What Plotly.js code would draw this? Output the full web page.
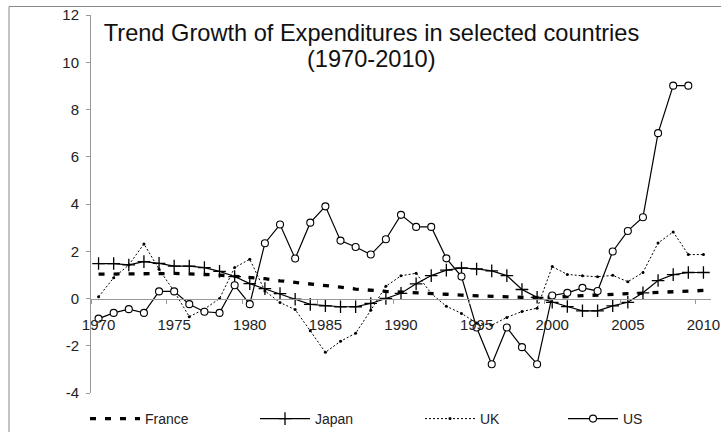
<!DOCTYPE html>
<html>
<head>
<meta charset="utf-8">
<script src="https://cdn.plot.ly/plotly-3.0.1.min.js"></script>
<style>html,body{margin:0;padding:0;background:#fff;}#chart{width:721px;height:432px;}</style>
</head>
<body>
<div id="chart"></div>
<script>
var years = [1970,1971,1972,1973,1974,1975,1976,1977,1978,1979,
             1980,1981,1982,1983,1984,1985,1986,1987,1988,1989,
             1990,1991,1992,1993,1994,1995,1996,1997,1998,1999,
             2000,2001,2002,2003,2004,2005,2006,2007,2008,2009,2010];

var france = [1.03,1.04,1.06,1.07,1.07,1.06,1.04,1.02,0.99,0.94,
              0.89,0.84,0.75,0.69,0.62,0.56,0.48,0.40,0.34,0.30,
              0.27,0.25,0.22,0.18,0.14,0.11,0.08,0.06,0.05,0.04,
              0.05,0.08,0.12,0.15,0.18,0.21,0.24,0.27,0.31,0.34,0.34];

var japan = [1.48,1.48,1.42,1.56,1.49,1.37,1.37,1.31,1.15,0.93,
             0.63,0.42,0.21,-0.03,-0.25,-0.31,-0.35,-0.35,-0.21,0.00,
             0.22,0.62,0.97,1.20,1.29,1.25,1.17,0.97,0.38,0.05,
             -0.16,-0.34,-0.52,-0.52,-0.31,-0.16,0.24,0.76,1.01,1.10,1.10];

var uk = [0.07,0.88,1.42,2.31,1.24,0.30,-0.77,-0.45,0.00,1.31,
          1.66,0.32,-0.17,-0.47,-1.37,-2.28,-1.81,-1.47,-0.50,0.52,
          0.96,1.07,0.21,-0.33,-0.63,-1.04,-1.13,-0.80,-0.55,-0.41,
          1.35,1.02,0.96,0.92,0.98,0.71,1.10,2.35,2.82,1.86,1.86];

var us = [-0.85,-0.61,-0.45,-0.61,0.30,0.30,-0.24,-0.56,-0.61,0.56,
          -0.24,2.34,3.13,1.69,3.21,3.90,2.45,2.18,1.86,2.51,
          3.54,3.03,3.03,1.70,0.93,-1.23,-2.78,-1.23,-2.06,-2.78,
          0.13,0.24,0.45,0.32,1.99,2.86,3.44,7.00,9.01,9.01,null];

var labelYears = [1970,1975,1980,1985,1990,1995,2000,2005,2010];
var labelYearText = ['1970','1975','1980','1985','1990','1995','2000','2005','2010'];
var boundaryTicks = [1969.5,1974.5,1979.5,1984.5,1989.5,1994.5,1999.5,2004.5,2009.5];
var yTicks = [-4,-2,0,2,4,6,8,10,12];
var yTickText = ['-4','-2','0','2','4','6','8','10','12'];

var titleLine1 = 'Trend Growth of Expenditures in selected countries';
var titleLine2 = '(1970-2010)';

var FONT = 'Liberation Sans, Arial, sans-serif';

var traces = [
  {x: years, y: france, name: 'France', type: 'scatter', mode: 'lines',
   line: {color: '#000', width: 3.3, dash: '6px,9px'}, legend: 'legend'},
  {x: years, y: japan, name: 'Japan', type: 'scatter', mode: 'lines+markers',
   line: {color: '#000', width: 1.2},
   marker: {symbol: 'cross-thin', size: 9, color: '#000', line: {color: '#000', width: 1.3}},
   legend: 'legend2'},
  {x: years, y: uk, name: 'UK', type: 'scatter', mode: 'lines+markers',
   line: {color: '#000', width: 1, dash: '2px,2px'},
   marker: {symbol: 'circle', size: 3, color: '#000'}, legend: 'legend3'},
  {x: years, y: us, name: 'US', type: 'scatter', mode: 'lines+markers',
   line: {color: '#000', width: 1.2},
   marker: {symbol: 'circle', size: 7, color: '#fff', line: {color: '#000', width: 1.1}},
   legend: 'legend4'},
  // carrier for the year-label axis (draws nothing)
  {x: labelYears, y: labelYears.map(function(){return null;}), xaxis: 'x2', yaxis: 'y',
   type: 'scatter', mode: 'lines', showlegend: false, hoverinfo: 'skip'}
];

function legendAt(px) {
  return {orientation: 'h', x: px / 721, xref: 'container', y: 1 - 419 / 432, yref: 'container',
          xanchor: 'left', yanchor: 'middle', itemwidth: 50, bgcolor: 'rgba(0,0,0,0)',
          font: {family: FONT, size: 14, color: '#222'}};
}

var layout = {
  width: 721, height: 432,
  margin: {l: 91, r: 10, t: 15, b: 39},
  paper_bgcolor: '#fff', plot_bgcolor: '#fff',
  showlegend: true,
  title: {text: titleLine1, font: {family: FONT, size: 23.6, color: '#111'},
          x: 371.5 / 721, xref: 'container', xanchor: 'center',
          y: 1 - 32.5 / 432, yref: 'container', yanchor: 'middle'},
  font: {family: FONT, color: '#222'},
  xaxis: {range: [1969.5, 2010.5], anchor: 'free', position: 0.25,
          showline: true, linecolor: '#999', linewidth: 1,
          ticks: 'outside', ticklen: 4, tickcolor: '#999', tickvals: boundaryTicks,
          showticklabels: false, showgrid: false, zeroline: false},
  xaxis2: {range: [1969.5, 2010.5], overlaying: 'x', anchor: 'free', position: 0.25, side: 'bottom',
           showline: false, ticks: '', tickvals: labelYears, ticktext: labelYearText,
           ticklabelstandoff: 15,
           tickfont: {family: FONT, size: 15, color: '#222'}, showgrid: false, zeroline: false},
  yaxis: {range: [-4, 12], tickvals: yTicks, ticktext: yTickText,
          showline: true, linecolor: '#999', linewidth: 1,
          ticks: 'outside', ticklen: 4, tickcolor: '#999', showgrid: false, zeroline: false,
          ticklabelstandoff: 4,
          tickfont: {family: FONT, size: 15, color: '#222'}},
  legend: legendAt(85),
  legend2: legendAt(255),
  legend3: legendAt(420),
  legend4: legendAt(563),
  annotations: [
    {text: titleLine2, xref: 'paper', yref: 'paper', x: (371 - 91) / 620, y: (393 - 59.5) / 377.5,
     xanchor: 'center', yanchor: 'middle', showarrow: false,
     font: {family: FONT, size: 23.6, color: '#111'}}
  ],
  shapes: [
    {type: 'rect', xref: 'paper', yref: 'paper',
     x0: (9 - 91) / 620, x1: (730 - 91) / 620, y0: (393 - 445) / 377.5, y1: (393 - 7) / 377.5,
     line: {color: '#888', width: 1}, fillcolor: 'rgba(0,0,0,0)', layer: 'below'}
  ]
};

Plotly.newPlot('chart', traces, layout, {displayModeBar: false, staticPlot: true});
</script>
</body>
</html>
